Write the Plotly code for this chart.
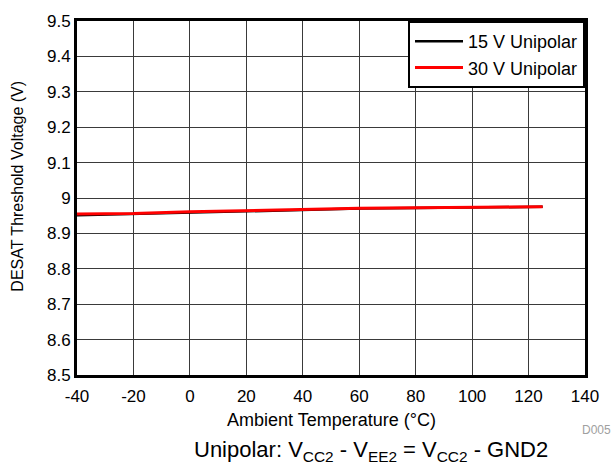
import plotly.graph_objects as go

temps = [-40, -20, 0, 20, 40, 60, 80, 100, 120, 125]
v15 = [8.951, 8.955, 8.959, 8.963, 8.967, 8.970, 8.972, 8.973, 8.974, 8.975]
v30 = [8.955, 8.956, 8.961, 8.9645, 8.968, 8.971, 8.9727, 8.9738, 8.9754, 8.9756]
series_names = ["15 V Unipolar", "30 V Unipolar"]
x_ticks = [-40, -20, 0, 20, 40, 60, 80, 100, 120, 140]
y_ticks = [8.5, 8.6, 8.7, 8.8, 8.9, 9.0, 9.1, 9.2, 9.3, 9.4, 9.5]
y_tick_text = ["8.5", "8.6", "8.7", "8.8", "8.9", "9", "9.1", "9.2", "9.3", "9.4", "9.5"]

W, H = 616, 469
L, R, T, B = 77, 31, 16, 94
pw, ph = W - L - R, H - T - B

font = "Liberation Sans, Arial, sans-serif"

fig = go.Figure()
fig.add_trace(go.Scatter(x=temps, y=v15, mode="lines", name=series_names[0],
                         line=dict(color="black", width=2.5)))
fig.add_trace(go.Scatter(x=temps, y=v30, mode="lines", name=series_names[1],
                         line=dict(color="#ff0000", width=3)))

axis_common = dict(showline=True, linecolor="black", linewidth=3, mirror=True,
                   showgrid=True, gridcolor="#3a3a3a", gridwidth=1,
                   zeroline=False, ticks="",
                   tickfont=dict(family=font, size=17, color="black"))

fig.update_layout(
    width=W, height=H,
    margin=dict(l=L, r=R, t=T, b=B),
    paper_bgcolor="white", plot_bgcolor="white",
    font=dict(family=font, color="black"),
    xaxis=dict(range=[-40, 140], tickmode="array", tickvals=x_ticks,
               ticktext=[str(v) for v in x_ticks], ticklabelstandoff=4,
               **axis_common),
    yaxis=dict(range=[8.5, 9.5], tickmode="array", tickvals=y_ticks,
               ticktext=y_tick_text, **axis_common),
    legend=dict(x=1, y=1, xanchor="right", yanchor="top",
                bgcolor="white", bordercolor="black", borderwidth=2,
                font=dict(family=font, size=18, color="black"),
                tracegroupgap=0, itemwidth=48),
    showlegend=True,
)

annotations = [
    dict(text="Ambient Temperature (°C)", x=0.5, y=(H - B - 421) / ph,
         xref="paper", yref="paper", showarrow=False,
         font=dict(family=font, size=18, color="black"),
         xanchor="center", yanchor="middle"),
    dict(text="DESAT Threshold Voltage (V)", x=(18 - L) / pw, y=(H - B - 184) / ph,
         xref="paper", yref="paper", showarrow=False, textangle=-90,
         font=dict(family=font, size=16, color="black"),
         xanchor="center", yanchor="middle"),
    dict(text="D005", x=(596 - L) / pw, y=(H - B - 431) / ph,
         xref="paper", yref="paper", showarrow=False,
         font=dict(family=font, size=12, color="#a0a0a0"),
         xanchor="center", yanchor="middle"),
    dict(text="Unipolar: V<sub>CC2</sub> - V<sub>EE2</sub> = V<sub>CC2</sub> - GND2",
         x=(371 - L) / pw, y=(H - B - 452) / ph,
         xref="paper", yref="paper", showarrow=False,
         font=dict(family=font, size=22, color="black"),
         xanchor="center", yanchor="middle"),
]
fig.update_layout(annotations=annotations)

fig.write_html("out.html", config={"displayModeBar": False},
               post_script="document.body.style.margin='0';document.body.style.overflow='hidden';")
